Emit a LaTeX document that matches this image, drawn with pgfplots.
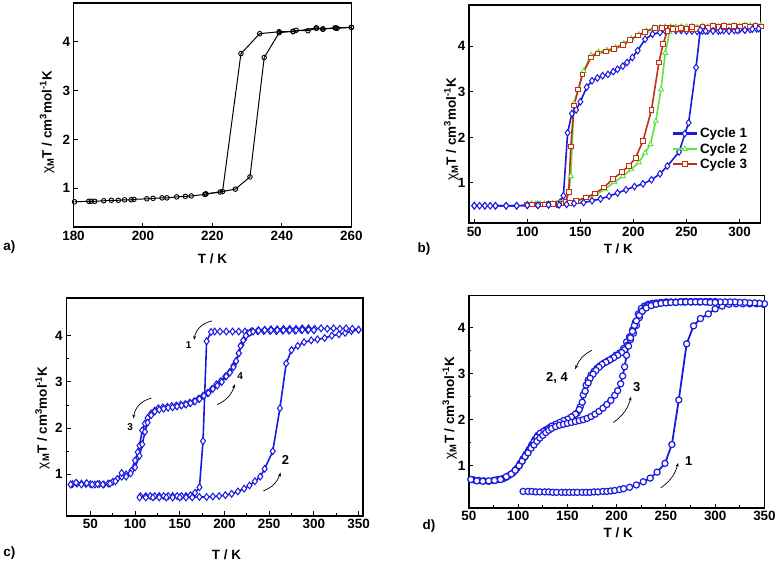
\documentclass[border=0pt]{standalone}
\usepackage{pgfplots}
\pgfplotsset{compat=1.18}
\usepackage{fontspec}
\setmainfont{Liberation Sans}
\usetikzlibrary{arrows.meta}
\definecolor{oblue}{RGB}{25,25,225}
\definecolor{ogreen}{RGB}{90,230,60}
\definecolor{ored}{RGB}{200,45,20}
\newcommand{\bigf}{\fontsize{13.5}{15}\selectfont\bfseries}
\newcommand{\ylab}{\bigf {\mdseries χ}\textsubscript{M}T / cm\textsuperscript{3}mol\textsuperscript{-1}K}
\pgfplotsset{
  common/.style={scale only axis, anchor=south west,
    axis line style={line width=1.4pt},
    tick style={line width=1pt, black}, major tick length=4.5pt, minor tick length=2.5pt,
    tick align=inside, xtick pos=left, ytick pos=left,
    /pgf/number format/assume math mode=true,
    tick label style={font=\bigf},
    label style={font=\bigf},
    ytick={1,2,3,4},
    ylabel={\ylab}, xlabel={T / K},
    ylabel style={rotate=0, anchor=center},
    xlabel style={anchor=center},
    clip=true,
  },
}
\begin{document}
\begin{tikzpicture}
\path (0pt,0pt) rectangle (779pt,560pt);
% ---------------- a ----------------
\begin{axis}[common, at={(73pt,332pt)}, width=279pt, height=225pt,
  xmin=180, xmax=260, ymin=0.2, ymax=4.8, xtick={180,200,...,260},
  ylabel style={at={(axis description cs:-0.095,0.467)}},
  xlabel style={at={(axis description cs:0.5,-0.142)}}]
\addplot[black, line width=1pt, mark=o, mark size=2.3pt, mark options={fill=white, line width=0.9pt}] coordinates {
(180.3,0.72)(184.4,0.73)(185.1,0.73)(186.1,0.73)(188.7,0.74)(190.9,0.75)(192.9,0.75)(194.7,0.76)(196.6,0.76)(197.4,0.77)(201.1,0.78)(202.9,0.79)(205.5,0.80)(206.9,0.80)(209.7,0.82)(212.2,0.83)(213.9,0.84)(217.8,0.87)(218.1,0.88)(222.2,0.92)(226.6,0.98)(230.8,1.23)(234.9,3.68)(239.2,4.19)(243.2,4.22)(244.1,4.24)(247.5,4.23)(249.9,4.28)(251.8,4.26)(255.3,4.29)(255.9,4.28)(260,4.30)};
\addplot[black, line width=1pt, mark=o, mark size=2.3pt, mark options={fill=white, line width=0.9pt}] coordinates {
(260,4.30)(255.5,4.29)(251.8,4.27)(249.9,4.29)(243.2,4.21)(239.2,4.21)(233.6,4.17)(228.2,3.76)(222.9,0.93)(218.1,0.88)};
\end{axis}
\node[anchor=west, font=\bigf] at (-1pt,312pt) {a)};
% ---------------- b ----------------
\begin{axis}[common, at={(470pt,336pt)}, width=293pt, height=219pt,
  xmin=45, xmax=320, ymin=0.12, ymax=4.9, xtick={50,100,...,300},
  ylabel style={at={(axis description cs:-0.06,0.43)}},
  xlabel style={at={(axis description cs:0.512,-0.119)}},
  legend style={draw=none, fill=none, at={(0.69,0.45)}, anchor=north west, font=\bigf, row sep=0pt, inner sep=1pt},
  legend image code/.code={\draw[#1, line width=2.6pt] (0pt,0pt) -- (24pt,0pt); \draw[#1, mark repeat=2, mark phase=2] plot coordinates {(0pt,0pt)(12pt,0pt)(24pt,0pt)};}]
\addplot[oblue, line width=1.6pt, mark=diamond*, mark size=3.3pt, mark options={fill=white, line width=1pt}] coordinates {
(316,4.38)(310,4.36)(305,4.35)(300,4.36)(295,4.34)(290,4.35)(285,4.34)(280,4.33)(275,4.34)(270,4.33)(265,4.33)(260,4.32)(255,4.33)(250,4.33)(245,4.34)(240,4.34)(235,4.35)(230,4.33)(225,4.30)(218,4.26)(211,4.15)(204,3.90)(199,3.75)(194,3.64)(190,3.56)(185,3.49)(181,3.44)(176,3.38)(171,3.35)(166,3.30)(161,3.24)(156,3.10)(150,2.78)(146,2.60)(142,2.52)(138,2.10)(134,0.72)(131,0.58)(128,0.53)(120,0.52)(110,0.51)(100,0.51)(90,0.50)(80,0.50)(70,0.50)(65,0.50)(60,0.50)(55,0.50)(50,0.50)};
\addlegendentry{Cycle 1}
\addplot[ogreen, line width=1.6pt, mark=triangle*, mark size=2.9pt, mark options={fill=white, line width=0.9pt}] coordinates {
(320,4.45)(315,4.45)(310,4.45)(305,4.45)(300,4.44)(295,4.44)(290,4.44)(285,4.43)(280,4.43)(275,4.42)(270,4.42)(265,4.41)(260,4.41)(255,4.42)(250,4.42)(245,4.42)(240,4.42)(235,4.42)(230,4.42)(225,4.41)(219,4.40)(212,4.33)(205,4.25)(198,4.16)(191,4.06)(183,3.97)(175,3.91)(167,3.87)(160,3.80)(153,3.45)(148,3.05)(144,2.75)(141,1.15)(139,0.80)(136,0.58)(132,0.56)(128,0.55)(124,0.55)(120,0.54)(116,0.54)(112,0.54)(108,0.54)(104,0.54)(100,0.54)
(104,0.54)(110,0.54)(120,0.55)(130,0.55)(140,0.56)(147,0.60)(156,0.67)(165,0.75)(173,0.86)(182,1.02)(190,1.15)(198,1.30)(205,1.45)(211,1.66)(216,1.85)(221,2.35)(226,3.05)(230,3.85)(234,4.30)(238,4.40)(245,4.42)(255,4.43)(265,4.44)(275,4.45)(285,4.45)(295,4.45)(305,4.45)(315,4.45)(320,4.45)};
\addlegendentry{Cycle 2}
\addplot[ored, line width=1.6pt, mark=square*, mark size=2.4pt, mark options={fill=white, line width=0.9pt}] coordinates {
(320,4.43)(315,4.44)(310,4.43)(305,4.44)(300,4.43)(295,4.42)(290,4.43)(285,4.42)(280,4.41)(275,4.41)(270,4.40)(265,4.39)(260,4.38)(255,4.38)(250,4.37)(245,4.37)(240,4.38)(235,4.39)(230,4.40)(227,4.40)(220,4.39)(211,4.31)(204,4.23)(197,4.13)(190,4.02)(182,3.94)(174,3.88)(166,3.84)(160,3.75)(152,3.38)(148,3.05)(144,2.70)(141,1.80)(139,0.80)(136,0.58)(132,0.55)(128,0.54)(124,0.54)(120,0.53)(116,0.53)(112,0.53)(108,0.53)(104,0.53)(100,0.53)
(110,0.53)(120,0.54)(130,0.55)(140,0.56)(146,0.61)(155,0.68)(164,0.77)(172,0.90)(181,1.09)(189,1.24)(196,1.38)(202,1.55)(209,1.92)(217,2.60)(224,3.64)(228,4.05)(232,4.33)(237,4.38)(245,4.40)(255,4.42)(265,4.43)(275,4.44)(285,4.44)(295,4.44)(305,4.44)(315,4.44)(320,4.43)};
\addlegendentry{Cycle 3}
\addplot[oblue, line width=1.6pt, mark=diamond*, mark size=3.3pt, mark options={fill=white, line width=1pt}, forget plot] coordinates {
(50,0.50)(60,0.50)(70,0.50)(80,0.50)(90,0.50)(100,0.51)(110,0.51)(120,0.52)(130,0.52)(137,0.53)(144,0.55)(153,0.57)(161,0.61)(169,0.65)(177,0.71)(185,0.78)(193,0.85)(201,0.92)(209,0.98)(217,1.07)(225,1.20)(232,1.37)(243,1.68)(252,2.32)(259,3.53)(263,4.35)(268,4.33)(275,4.33)(282,4.34)(290,4.33)(298,4.34)(305,4.35)(312,4.37)(318,4.38)};
\end{axis}
\node[anchor=west, font=\bigf] at (415pt,310pt) {b)};
% ---------------- c ----------------
\begin{axis}[common, at={(65.7pt,42pt)}, width=298pt, height=219pt,
  xmin=23, xmax=355, ymin=0.1, ymax=4.82, xtick={50,100,...,350},
  minor x tick num=1, minor y tick num=1,
  ylabel style={at={(axis description cs:-0.08,0.45)}},
  xlabel style={at={(axis description cs:0.54,-0.178)}}]
\addplot[oblue, line width=1.6pt, mark=diamond*, mark size=3.4pt, mark options={fill=white, line width=1pt}] coordinates {
(300,4.12)(293,4.12)(286,4.12)(279,4.11)(272,4.11)(265,4.11)(258,4.10)(251,4.10)(244,4.10)(237,4.10)(230,4.09)(223,4.09)(216,4.09)(209,4.09)(202,4.09)(195,4.09)(189,4.09)(185,4.08)(180,3.88)(176,1.72)(172,0.72)(167,0.60)(162,0.55)(157,0.53)(152,0.53)(147,0.53)(142,0.53)(137,0.53)(132,0.53)(127,0.53)(122,0.53)(117,0.53)(112,0.53)(106,0.53)};
\addplot[oblue, line width=1.6pt, mark=diamond*, mark size=3.4pt, mark options={fill=white, line width=1pt}] coordinates {
(105,0.50)(112,0.50)(120,0.50)(127,0.50)(135,0.50)(142,0.50)(150,0.50)(157,0.50)(164,0.50)(172,0.51)(180,0.51)(187,0.52)(194,0.53)(201,0.55)(208,0.58)(215,0.63)(222,0.69)(228,0.76)(234,0.85)(240,0.95)(245,1.12)(254,1.50)(262,2.43)(269,3.40)(275,3.69)(282,3.78)(289,3.86)(297,3.90)(304,3.92)(312,3.95)(320,4.00)(328,4.03)(335,4.06)(342,4.10)(350,4.13)};
\addplot[oblue, line width=1.6pt, mark=diamond*, mark size=3.4pt, mark options={fill=white, line width=1pt}] coordinates {
(350,4.13)(343,4.15)(336,4.16)(329,4.15)(322,4.16)(315,4.15)(308,4.16)(301,4.15)(294,4.16)(287,4.16)(280,4.15)(273,4.15)(266,4.15)(259,4.14)(252,4.14)(245,4.13)(238,4.12)(231,4.10)(226,4.05)(222,3.92)(219,3.80)(216,3.62)(213,3.45)(210,3.35)(206,3.22)(201,3.12)(196,3.02)(191,2.95)(186,2.85)(181,2.76)(176,2.70)(171,2.64)(166,2.58)(161,2.55)(156,2.52)(151,2.51)(146,2.49)(141,2.48)(136,2.46)(131,2.45)(126,2.43)(122,2.38)(118,2.32)(114,2.22)(111,2.10)(108,1.95)(105,1.62)(103,1.48)(100,1.30)(96,1.08)(90,1.00)(85,0.95)(80,0.90)(75,0.84)(70,0.80)(65,0.78)(60,0.79)(55,0.78)(50,0.79)(45,0.79)(40,0.80)(35,0.80)(30,0.79)(28,0.78)};
\addplot[oblue, line width=1.6pt, mark=diamond*, mark size=3.4pt, mark options={fill=white, line width=1pt}] coordinates {
(28,0.78)(34,0.82)(40,0.78)(46,0.81)(52,0.78)(58,0.79)(64,0.78)(72,0.80)(78,0.85)(85,1.03)(90,0.95)(95,1.02)(100,1.15)(105,1.40)(108,1.65)(111,1.92)(114,2.12)(118,2.28)(122,2.36)(127,2.40)(132,2.42)(137,2.44)(142,2.45)(147,2.47)(152,2.49)(157,2.51)(162,2.54)(167,2.58)(172,2.63)(177,2.70)(182,2.76)(187,2.85)(192,2.92)(197,3.00)(202,3.12)(206,3.20)(210,3.32)(213,3.45)(216,3.62)(218,3.78)(221,3.90)(224,4.00)(228,4.06)(232,4.09)(238,4.11)(245,4.12)(252,4.12)(259,4.12)(266,4.12)(273,4.12)(280,4.12)(287,4.13)(294,4.13)(300,4.12)};
\draw[black, line width=0.7pt, -{Stealth[length=4pt]}] (axis cs:186.2,4.32) to[bend right=35] (axis cs:166,3.91);
\node[font=\fontsize{10}{11}\selectfont\bfseries] at (axis cs:160,3.79) {1};
\draw[black, line width=0.7pt, -{Stealth[length=4pt]}] (axis cs:118.4,2.65) to[bend right=35] (axis cs:98.2,2.21);
\node[font=\fontsize{10}{11}\selectfont\bfseries] at (axis cs:94.5,2.03) {3};
\draw[black, line width=0.7pt, -{Stealth[length=4pt]}] (axis cs:191.8,2.51) to[bend right=25] (axis cs:211.4,2.95);
\node[font=\fontsize{10}{11}\selectfont\bfseries] at (axis cs:217.6,3.13) {4};
\draw[black, line width=0.7pt, -{Stealth[length=4pt]}] (axis cs:243.3,0.64) to[bend right=25] (axis cs:262.8,1.04);
\node[font=\fontsize{13}{14}\selectfont\bfseries] at (axis cs:268.3,1.31) {2};
\end{axis}
\node[anchor=west, font=\bigf] at (-1pt,5pt) {c)};
% ---------------- d ----------------
\begin{axis}[common, at={(470pt,50pt)}, width=296.7pt, height=213.3pt,
  xmin=50, xmax=350, ymin=0.08, ymax=4.7, xtick={50,100,...,350},
  minor x tick num=1, minor y tick num=1,
  ylabel style={at={(axis description cs:-0.065,0.47)}},
  xlabel style={at={(axis description cs:0.505,-0.117)}}]
\addplot[oblue, line width=1.8pt, mark=*, mark size=3.1pt, mark options={fill=white, line width=1.2pt}] coordinates {
(105,0.44)(110,0.44)(114,0.44)(118,0.43)(122,0.43)(127,0.43)(131,0.43)(135,0.42)(139,0.42)(144,0.42)(148,0.42)(152,0.42)(156,0.42)(160,0.42)(165,0.42)(169,0.42)(173,0.42)(177,0.43)(181,0.43)(186,0.44)(190,0.44)(194,0.45)(198,0.46)(203,0.48)(207,0.50)(213,0.53)(220,0.58)(227,0.65)(234,0.73)(241,0.86)(249,1.05)(256,1.46)(263,2.43)(271,3.65)(278,4.04)(285,4.20)(293,4.30)(300,4.41)(307,4.47)(314,4.51)(321,4.52)(328,4.52)(335,4.52)(342,4.52)(349,4.51)};
\addplot[oblue, line width=1.8pt, mark=*, mark size=3.1pt, mark options={fill=white, line width=1.2pt}] coordinates {
(350,4.52)(345,4.53)(340,4.54)(335,4.54)(330,4.55)(325,4.55)(320,4.56)(315,4.56)(310,4.56)(305,4.56)(300,4.57)(295,4.57)(290,4.57)(285,4.57)(280,4.57)(275,4.57)(270,4.57)(265,4.57)(260,4.56)(255,4.56)(250,4.56)(245,4.55)(240,4.54)(236,4.53)(232,4.51)(228,4.47)(225,4.42)(222,4.30)(219,4.12)(216,3.95)(213,3.80)(210,3.69)(207,3.55)(203,3.45)(199,3.40)(195,3.33)(191,3.28)(187,3.23)(183,3.17)(180,3.12)(177,3.05)(174,2.97)(171,2.86)(169,2.75)(166,2.54)(163,2.28)(160,2.15)(156,2.08)(152,2.02)(148,1.97)(144,1.94)(140,1.90)(136,1.86)(132,1.83)(128,1.78)(124,1.72)(120,1.66)(117,1.57)(114,1.46)(111,1.35)(108,1.25)(105,1.15)(102,1.05)(99,0.95)(95,0.85)(90,0.78)(85,0.72)(80,0.70)(75,0.68)(70,0.66)(65,0.67)(60,0.68)(55,0.69)(52,0.70)};
\addplot[oblue, line width=1.8pt, mark=*, mark size=3.1pt, mark options={fill=white, line width=1.2pt}] coordinates {
(300,4.56)(292,4.56)(284,4.56)(276,4.56)(268,4.56)(260,4.55)(252,4.55)(244,4.54)(238,4.52)(233,4.49)(229,4.44)(226,4.36)(223,4.22)(220,4.05)(217,3.88)(214,3.74)(211,3.62)(208,3.52)(205,3.46)(201,3.40)(197,3.35)(193,3.30)(189,3.25)(185,3.20)(182,3.14)(179,3.07)(176,2.99)(173,2.90)(171,2.80)(168,2.62)(165,2.38)(162,2.22)(158,2.12)(154,2.06)(150,2.01)(146,1.98)(142,1.94)(138,1.90)(134,1.86)(130,1.80)(126,1.75)(122,1.70)(119,1.62)(116,1.52)(113,1.41)(110,1.30)(107,1.20)(104,1.10)(101,1.00)(97,0.90)(93,0.82)(88,0.75)(83,0.71)(78,0.69)};
\addplot[oblue, line width=1.8pt, mark=*, mark size=3.1pt, mark options={fill=white, line width=1.2pt}] coordinates {
(52,0.70)(58,0.67)(64,0.66)(70,0.67)(76,0.68)(82,0.70)(88,0.76)(93,0.82)(97,0.90)(101,1.00)(104,1.10)(107,1.20)(110,1.28)(113,1.38)(116,1.45)(119,1.53)(122,1.60)(125,1.66)(128,1.72)(131,1.77)(134,1.81)(138,1.85)(142,1.88)(146,1.90)(150,1.92)(154,1.94)(158,1.96)(162,1.98)(166,2.00)(170,2.03)(174,2.07)(178,2.12)(182,2.18)(186,2.25)(190,2.33)(194,2.42)(198,2.53)(201,2.63)(204,2.78)(206,2.95)(208,3.15)(210,3.40)(212,3.60)(214,3.78)(216,3.92)(218,4.05)(220,4.15)(223,4.27)(226,4.36)(230,4.43)(235,4.48)(240,4.51)(245,4.53)(250,4.54)(255,4.55)(260,4.55)(265,4.56)(270,4.56)(275,4.56)(280,4.56)(285,4.56)(290,4.56)(295,4.55)(300,4.55)};
\draw[black, line width=0.7pt, -{Stealth[length=4pt]}] (axis cs:174.7,3.51) to[bend right=20] (axis cs:157.9,3.10);
\node[font=\fontsize{13}{14}\selectfont\bfseries] at (axis cs:139.3,2.90) {2, 4};
\draw[black, line width=0.7pt, -{Stealth[length=4pt]}] (axis cs:196.6,1.94) to[bend right=20] (axis cs:214.5,2.50);
\node[font=\fontsize{13}{14}\selectfont\bfseries] at (axis cs:220.2,2.72) {3};
\draw[black, line width=0.7pt, -{Stealth[length=4pt]}] (axis cs:244.8,0.52) to[bend right=20] (axis cs:262.3,1.06);
\node[font=\fontsize{13}{14}\selectfont\bfseries] at (axis cs:273.1,1.09) {1};
\end{axis}
\node[anchor=west, font=\bigf] at (420pt,32pt) {d)};
\end{tikzpicture}
\end{document}
